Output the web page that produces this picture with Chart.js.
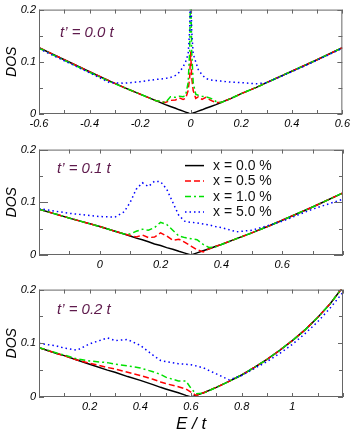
<!DOCTYPE html>
<html>
<head>
<meta charset="utf-8">
<script src="https://cdn.jsdelivr.net/npm/chart.js@4.4.1/dist/chart.umd.min.js"></script>
<style>
  body { margin: 0; background: #fff; }
  #wrap { position: relative; width: 353px; height: 434px; }
  canvas { position: absolute; left: 0; }
</style>
</head>
<body>
<div id="wrap">
  <canvas id="p1" width="353" height="140" style="top:0"></canvas>
  <canvas id="p2" width="353" height="140" style="top:140px"></canvas>
  <canvas id="p3" width="353" height="154" style="top:280px"></canvas>
</div>
<script>
// ---- data ----
const seriesNames = ["x = 0.0 %", "x = 0.5 %", "x = 1.0 %", "x = 5.0 %"];
const yLabels = [0, 0.1, 0.2];

// panel 1: t' = 0.0 t
const e1 = [-0.6, -0.5, -0.4, -0.32, -0.26, -0.2, -0.14, -0.1, -0.08, -0.06, -0.045, -0.03, -0.02, -0.01, -0.004, 0,
            0.004, 0.01, 0.02, 0.03, 0.045, 0.06, 0.08, 0.1, 0.12, 0.16, 0.2, 0.26, 0.3, 0.4, 0.5, 0.6];
const dos1x00 = [0.127, 0.104, 0.081, 0.063, 0.050, 0.038, 0.026, 0.018, 0.0145, 0.011, 0.008, 0.0055, 0.0036, 0.0018, 0.0007, 0,
                 0.0007, 0.0018, 0.0036, 0.0055, 0.008, 0.011, 0.0145, 0.018, 0.022, 0.030, 0.039, 0.051, 0.060, 0.082, 0.104, 0.127];
const dos1x05 = [0.127, 0.104, 0.081, 0.063, 0.050, 0.038, 0.026, 0.022, 0.026, 0.027, 0.031, 0.028, 0.030, 0.045, 0.070, 0.120,
                 0.070, 0.045, 0.030, 0.033, 0.028, 0.032, 0.026, 0.022, 0.022, 0.030, 0.039, 0.051, 0.060, 0.082, 0.104, 0.127];
const dos1x10 = [0.126, 0.103, 0.080, 0.062, 0.050, 0.038, 0.026, 0.022, 0.033, 0.032, 0.034, 0.033, 0.036, 0.060, 0.120, 0.260,
                 0.120, 0.060, 0.038, 0.036, 0.034, 0.033, 0.030, 0.024, 0.022, 0.030, 0.039, 0.051, 0.060, 0.082, 0.104, 0.127];
const dos1x50 = [0.125, 0.102, 0.079, 0.060, 0.059, 0.062, 0.066, 0.068, 0.070, 0.074, 0.080, 0.090, 0.100, 0.115, 0.160, 0.260,
                 0.160, 0.115, 0.100, 0.085, 0.075, 0.068, 0.065, 0.064, 0.063, 0.061, 0.060, 0.058, 0.060, 0.081, 0.103, 0.126];
const xLabels1 = [-0.6, -0.4, -0.2, 0, 0.2, 0.4, 0.6];

// panel 2: t' = 0.1 t
const e2 = [-0.2, -0.1, 0, 0.05, 0.08, 0.1, 0.12, 0.14, 0.16, 0.18, 0.2, 0.22, 0.24, 0.26, 0.28, 0.3,
            0.32, 0.34, 0.36, 0.38, 0.4, 0.45, 0.5, 0.56, 0.6, 0.7, 0.8];
const dos2x00 = [0.087, 0.070, 0.054, 0.045, 0.040, 0.036, 0.032, 0.029, 0.025, 0.021, 0.018, 0.014, 0.011, 0.007, 0.0035, 0,
                 0.004, 0.008, 0.012, 0.016, 0.020, 0.031, 0.042, 0.056, 0.066, 0.091, 0.118];
const dos2x05 = [0.087, 0.070, 0.054, 0.045, 0.040, 0.037, 0.034, 0.038, 0.033, 0.034, 0.042, 0.036, 0.028, 0.030, 0.024, 0.017,
                 0.010, 0.006, 0.012, 0.016, 0.020, 0.031, 0.042, 0.056, 0.066, 0.091, 0.118];
const dos2x10 = [0.087, 0.070, 0.054, 0.045, 0.040, 0.040, 0.045, 0.049, 0.047, 0.052, 0.062, 0.058, 0.047, 0.036, 0.033, 0.031,
                 0.029, 0.020, 0.014, 0.015, 0.020, 0.031, 0.042, 0.056, 0.066, 0.091, 0.118];
const dos2x50 = [0.088, 0.079, 0.073, 0.072, 0.082, 0.100, 0.125, 0.137, 0.130, 0.140, 0.139, 0.125, 0.100, 0.075, 0.064, 0.062,
                 0.061, 0.059, 0.057, 0.054, 0.052, 0.044, 0.047, 0.057, 0.064, 0.087, 0.106];
const xLabels2 = [0, 0.2, 0.4, 0.6];

// panel 3: t' = 0.2 t
const e3 = [0, 0.07, 0.1, 0.15, 0.2, 0.27, 0.3, 0.35, 0.4, 0.45, 0.48, 0.5, 0.55, 0.58, 0.6, 0.62, 0.65,
            0.7, 0.75, 0.8, 0.85, 0.9, 0.95, 1.0, 1.05, 1.1, 1.15, 1.2];
const dos3x00 = [0.092, 0.081, 0.077, 0.069, 0.061, 0.050, 0.046, 0.038, 0.031, 0.023, 0.018, 0.015, 0.008, 0.003, 0, 0.003, 0.008,
                 0.018, 0.029, 0.041, 0.055, 0.070, 0.087, 0.105, 0.125, 0.148, 0.174, 0.205];
const dos3x05 = [0.092, 0.081, 0.077, 0.069, 0.063, 0.055, 0.052, 0.046, 0.040, 0.033, 0.028, 0.025, 0.019, 0.015, 0.009, 0.003, 0.008,
                 0.018, 0.029, 0.041, 0.055, 0.070, 0.087, 0.105, 0.125, 0.148, 0.174, 0.205];
const dos3x10 = [0.092, 0.082, 0.078, 0.071, 0.067, 0.064, 0.061, 0.058, 0.054, 0.047, 0.042, 0.037, 0.030, 0.030, 0.016, 0.006, 0.007,
                 0.018, 0.029, 0.041, 0.055, 0.070, 0.087, 0.105, 0.125, 0.148, 0.174, 0.205];
const dos3x50 = [0.100, 0.095, 0.091, 0.087, 0.099, 0.110, 0.105, 0.107, 0.096, 0.078, 0.068, 0.066, 0.062, 0.061, 0.060, 0.058, 0.054,
                 0.043, 0.032, 0.040, 0.053, 0.066, 0.081, 0.098, 0.118, 0.140, 0.166, 0.195];
const xLabels3 = [0.2, 0.4, 0.6, 0.8, 1];

// ---- styles ----
const lineColors = ["#000000", "#ff0000", "#00e000", "#0000ff"];
const lineDashes = [[], [6, 3], [6, 3, 2, 3], [1.5, 3]];
const fontFamily = "'Liberation Sans', Arial, sans-serif";

function hasLabel(list, v) {
  return list.some(l => Math.abs(l - v) < 1e-6);
}
function fmt(v) {
  return String(Number(v.toFixed(2)));
}

// frame, inward ticks, panel label, legend
const framePlugin = {
  id: "frame",
  afterDatasetsDraw(chart, args, opts) {
    const { ctx, chartArea: a } = chart;
    const xs = chart.scales.x, ys = chart.scales.y;
    ctx.save();
    ctx.strokeStyle = "#666";
    ctx.lineWidth = 1;
    ctx.setLineDash([]);
    ctx.strokeRect(a.left + 0.5, a.top + 0.5, a.right - a.left - 1, a.bottom - a.top - 1);
    ctx.beginPath();
    xs.ticks.forEach(t => {
      const px = Math.round(xs.getPixelForValue(t.value)) + 0.5;
      ctx.moveTo(px, a.bottom); ctx.lineTo(px, a.bottom - 4);
      ctx.moveTo(px, a.top); ctx.lineTo(px, a.top + 4);
    });
    ys.ticks.forEach(t => {
      const py = Math.round(ys.getPixelForValue(t.value)) + 0.5;
      const len = hasLabel(yLabels, t.value) ? opts.majorLen : 4;
      ctx.moveTo(a.left, py); ctx.lineTo(a.left + len, py);
      ctx.moveTo(a.right, py); ctx.lineTo(a.right - len, py);
    });
    ctx.stroke();

    ctx.fillStyle = "#5e1a4c";
    ctx.font = "italic 15px " + fontFamily;
    ctx.textBaseline = "middle";
    ctx.textAlign = "left";
    ctx.fillText(opts.label, a.left + opts.labelDx, a.top + opts.labelDy);

    if (opts.legend) {
      ctx.font = "14px " + fontFamily;
      ctx.fillStyle = "#111";
      chart.data.datasets.forEach((ds, i) => {
        const y = a.top + 16 + i * 15.5;
        const x0 = a.left + 146;
        ctx.strokeStyle = ds.borderColor;
        ctx.lineWidth = 1.5;
        ctx.setLineDash(ds.borderDash);
        ctx.beginPath();
        ctx.moveTo(x0, y); ctx.lineTo(x0 + 19, y);
        ctx.stroke();
        ctx.setLineDash([]);
        ctx.fillText(ds.label, x0 + 28, y + 0.5);
      });
    }
    ctx.restore();
  }
};

function makePanel(id, e, seriesVals, xMin, xMax, xLabels, layout) {
  const datasets = seriesVals.map((vals, i) => ({
    label: seriesNames[i],
    data: e.map((x, k) => ({ x: x, y: vals[k] })),
    borderColor: lineColors[i],
    borderDash: lineDashes[i],
    borderWidth: 1.5,
    pointRadius: 0,
    tension: 0,
    fill: false,
    order: 3 - i
  }));

  new Chart(document.getElementById(id), {
    type: "line",
    data: { datasets },
    plugins: [framePlugin],
    options: {
      responsive: false,
      animation: false,
      devicePixelRatio: 1,
      layout: { padding: { top: layout.top, right: 10, left: 0, bottom: 0 } },
      plugins: {
        legend: { display: false },
        tooltip: { enabled: false },
        frame: layout.frame
      },
      scales: {
        x: {
          type: "linear",
          min: xMin,
          max: xMax,
          grid: { display: false, drawTicks: false },
          border: { display: false },
          afterFit: s => { s.height = layout.xh; },
          ticks: {
            stepSize: 0.1,
            autoSkip: false,
            maxRotation: 0,
            padding: 3,
            color: "#000",
            font: { family: fontFamily, style: "italic", size: 11 },
            callback: v => hasLabel(xLabels, v) ? fmt(v) : ""
          },
          title: layout.xTitle ? {
            display: true,
            text: "E / t",
            color: "#000",
            padding: { top: 0, bottom: 0 },
            font: { family: fontFamily, style: "italic", size: 17 }
          } : { display: false }
        },
        y: {
          min: 0,
          max: 0.2,
          grid: { display: false, drawTicks: false },
          border: { display: false },
          afterFit: s => { s.width = 39; },
          ticks: {
            stepSize: 0.05,
            autoSkip: false,
            padding: 3,
            color: "#000",
            font: { family: fontFamily, style: "italic", size: 11 },
            callback: v => hasLabel(yLabels, v) ? fmt(v) : ""
          },
          title: {
            display: true,
            text: "DOS",
            color: "#000",
            padding: { top: 4, bottom: 0 },
            font: { family: fontFamily, style: "italic", size: 14 }
          }
        }
      }
    }
  });
}

makePanel("p1", e1, [dos1x00, dos1x05, dos1x10, dos1x50], -0.6, 0.6, xLabels1,
  { top: 6, xh: 26, frame: { label: "t\u2019 = 0.0 t", labelDx: 21, labelDy: 23, legend: false, majorLen: 5 } });
makePanel("p2", e2, [dos2x00, dos2x05, dos2x10, dos2x50], -0.2, 0.8, xLabels2,
  { top: 8, xh: 25, frame: { label: "t\u2019 = 0.1 t", labelDx: 18, labelDy: 19, legend: true, majorLen: 9 } });
makePanel("p3", e3, [dos3x00, dos3x05, dos3x10, dos3x50], 0, 1.2, xLabels3,
  { top: 8, xh: 37, xTitle: true, frame: { label: "t\u2019 = 0.2 t", labelDx: 18, labelDy: 20, legend: false, majorLen: 5 } });
</script>
</body>
</html>
